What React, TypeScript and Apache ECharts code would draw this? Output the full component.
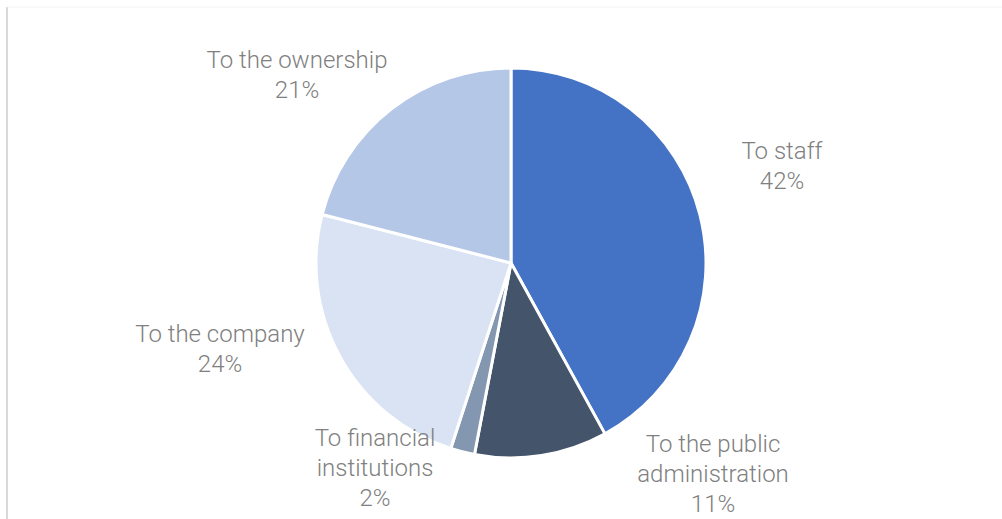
import React, { useEffect, useRef } from "react";
import * as echarts from "echarts";

const categories = [
  "To staff",
  "To the public\nadministration",
  "To financial\ninstitutions",
  "To the company",
  "To the ownership",
];
const values = [42, 11, 2, 24, 21];
const colors = ["#4472C4", "#44546A", "#8497B0", "#DAE3F3", "#B4C7E7"];
// label block centres (layout only)
const labelPos: [number, number][] = [
  [782, 166],
  [713, 474],
  [375, 468],
  [220, 349],
  [297, 75],
];

export default function App() {
  const ref = useRef<HTMLDivElement>(null);
  useEffect(() => {
    if (!ref.current) return;
    const chart = echarts.init(ref.current, null, { renderer: "svg" });
    chart.setOption({
      animation: false,
      backgroundColor: "#ffffff",
      graphic: [
        {
          type: "line",
          shape: { x1: 7, y1: 7, x2: 7, y2: 519 },
          style: { stroke: "#d9d9d9", lineWidth: 2 },
        },
        {
          type: "line",
          shape: { x1: 7, y1: 7, x2: 1002, y2: 7 },
          style: { stroke: "#f3f3f3", lineWidth: 1 },
        },
      ],
      series: [
        {
          type: "pie",
          center: [511, 263],
          radius: 195,
          startAngle: 90,
          clockwise: true,
          data: categories.map((c, i) => ({
            name: c,
            value: values[i],
            itemStyle: { color: colors[i] },
          })),
          itemStyle: { borderColor: "#ffffff", borderWidth: 3 },
          label: {
            show: true,
            position: "outside",
            formatter: (p: any) => `${p.name}\n${p.value}%`,
            fontFamily: "Roboto",
            fontWeight: 300,
            fontSize: 24,
            lineHeight: 30,
            color: "#808080",
            align: "center",
          },
          labelLine: { show: false },
          labelLayout: (params: any) => {
            const pos = labelPos[params.dataIndex];
            return {
              x: pos[0],
              y: pos[1],
              align: "center",
              verticalAlign: "middle",
            };
          },
          emphasis: { disabled: true },
        },
      ],
    });
    return () => chart.dispose();
  }, []);
  return (
    <div
      ref={ref}
      style={{ position: "fixed", left: 0, top: 0, width: 1002, height: 519 }}
    />
  );
}
